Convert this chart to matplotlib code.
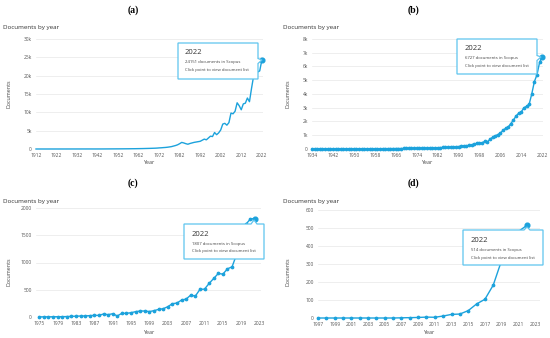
import matplotlib.pyplot as plt
from matplotlib.patches import Polygon

# Scopus "documents by year" for four searches
a_years = list(range(1912, 2023))
a_docs = [2, 1, 1, 2, 0, 1, 1, 3, 2, 2,
          3, 2, 4, 3, 5, 4, 6, 5, 7, 6,
          8, 7, 9, 10, 9, 12, 11, 10, 8, 9,
          10, 12, 11, 14, 18, 22, 25, 28, 30, 35,
          38, 42, 45, 50, 55, 60, 68, 75, 80, 90,
          100, 110, 120, 135, 150, 165, 180, 200, 220, 250,
          300, 330, 380, 420, 480, 560, 650, 800, 950, 1150,
          1450, 1800, 1650, 1450, 1300, 1500, 1650, 1800, 1900, 2000,
          2100, 2400, 2700, 2500, 3000, 3500, 3400, 4500, 3900, 4400,
          5200, 6800, 7000, 6500, 7200, 9800, 9600, 10300, 12600, 11800,
          10700, 12300, 12500, 13900, 12900, 16500, 19800, 23700, 21000, 21300,
          24151]

b_years = list(range(1934, 2023))
b_docs = [5, 3, 4, 6, 5, 4, 3, 2, 3, 4,
          5, 6, 8, 7, 9, 10, 12, 11, 13, 15,
          14, 16, 18, 17, 20, 22, 21, 24, 26, 25,
          28, 30, 32, 31, 35, 38, 40, 42, 45, 48,
          50, 55, 58, 60, 65, 70, 75, 80, 90, 100,
          110, 115, 125, 135, 150, 165, 180, 200, 220, 240,
          260, 300, 350, 420, 450, 450, 550, 500, 700, 850,
          950, 1050, 1150, 1350, 1500, 1600, 1850, 2100, 2400, 2600,
          2700, 3000, 3100, 3250, 4000, 4900, 5400, 6300,
          6727]

c_years = list(range(1975, 2023))
c_docs = [2, 3, 3, 4, 5, 6, 8, 12, 15, 18,
          20, 25, 30, 30, 55, 43, 60, 20, 67, 67,
          79, 98, 110, 110, 100, 116, 140, 152, 189, 244,
          256, 311, 329, 402, 384, 506, 512, 616, 707, 799,
          787, 884, 921, 1150, 1450, 1700, 1800, 1807]

d_years = list(range(1997, 2023))
d_docs = [0, 0, 0, 0, 0, 0, 0, 0, 0, 0,
          1, 2, 3, 5, 4, 11, 20, 22, 41, 78,
          104, 183, 320, 420, 480, 514]

a_xticks = list(range(1912, 2023, 10))
b_xticks = list(range(1934, 2023, 8))
c_xticks = list(range(1975, 2024, 4))
d_xticks = list(range(1997, 2024, 2))

W, H = 550, 338
BLUE = '#1ca2dc'
EDGE = '#5ec4ee'
FONT = 'Open Sans'

fig = plt.figure(figsize=(5.5, 3.38), dpi=100)


def fx(x):
    return x / W


def fy(y):
    return 1 - y / H


def panel(box, years, docs, xlim, xticks, ymax, ystep, kfmt, markers):
    x0, y0, x1, y1 = box
    ax = fig.add_axes([fx(x0), fy(y1), fx(x1) - fx(x0), fy(y0) - fy(y1)])
    if markers:
        ax.plot(years, docs, color=BLUE, lw=1.0, marker='o', ms=1.7, clip_on=False)
    else:
        ax.plot(years, docs, color=BLUE, lw=1.0, clip_on=False)
    ax.plot(years[-1], docs[-1], 'o', color=BLUE, ms=3.4, clip_on=False, zorder=5)
    ax.set_xlim(*xlim)
    ax.set_ylim(0, ymax)
    yt = list(range(0, ymax + 1, ystep))
    ax.set_yticks(yt)
    if kfmt:
        ax.set_yticklabels(['0'] + [f'{v // 1000}k' for v in yt[1:]])
    ax.set_xticks(xticks)
    ax.grid(axis='y', color='#e8e8e8', lw=0.5)
    ax.set_axisbelow(True)
    for s in ax.spines.values():
        s.set_visible(False)
    ax.tick_params(length=0, labelsize=3.5, colors='#555555', pad=3)
    for lab in ax.get_xticklabels() + ax.get_yticklabels():
        lab.set_family(FONT)
    return ax


def tooltip(box, arrow, text_xy, count):
    x0, y0, x1, y1 = box
    side, ax_, ay_, tx, ty = arrow
    if side == 'right':
        pts = [(x0, y0), (x1, y0), (x1, ay_ - 2.5), (tx, ty), (x1, ay_ + 2.5), (x1, y1), (x0, y1)]
    else:
        pts = [(x0, y0), (ax_ - 3, y0), (tx, ty), (ax_ + 3, y0), (x1, y0), (x1, y1), (x0, y1)]
    poly = Polygon([(fx(x), fy(y)) for x, y in pts], closed=True, transform=fig.transFigure,
                   facecolor='white', edgecolor=EDGE, lw=0.9, zorder=3)
    fig.add_artist(poly)
    tx0, ty0 = text_xy
    fig.text(fx(tx0), fy(ty0), '2022', fontsize=5.5, color='#333333', family=FONT, va='center', zorder=4)
    fig.text(fx(tx0), fy(ty0 + 9.5), f'{count} documents in Scopus', fontsize=3.1,
             color='#444444', family=FONT, va='center', zorder=4)
    fig.text(fx(tx0), fy(ty0 + 17), 'Click point to view document list', fontsize=3.1,
             color='#444444', family=FONT, va='center', zorder=4)


def labels(ox, oy, letter, ylab_x, ylab_y, year_x, year_y):
    fig.text(fx(ox + 133), fy(oy + 10), letter, fontsize=7, fontweight='bold',
             family='Liberation Serif', ha='center', va='center')
    fig.text(fx(ox + 3), fy(oy + 28), 'Documents by year', fontsize=4.5,
             color='#333333', family=FONT, va='center')
    fig.text(fx(ylab_x), fy(ylab_y), 'Documents', fontsize=3.9, color='#444444',
             family=FONT, rotation=90, ha='center', va='center')
    fig.text(fx(year_x), fy(year_y), 'Year', fontsize=3.9, color='#444444',
             family=FONT, ha='center', va='center')


panel((36, 39, 263, 149), a_years, a_docs, (1912, 2022.6), a_xticks, 30000, 5000, True, False)
panel((312, 39, 543, 149), b_years, b_docs, (1934, 2022.3), b_xticks, 8000, 1000, True, True)
panel((36, 208, 261, 317), c_years, c_docs, (1974.3, 2023.3), c_xticks, 2000, 500, False, True)
panel((318, 210, 540, 318), d_years, d_docs, (1997, 2023.6), d_xticks, 600, 100, False, True)

labels(0, 0, '(a)', 9, 94, 149, 163)
labels(280, 0, '(b)', 288, 94, 427, 163)
labels(0, 173, '(c)', 9, 272, 149, 332)
labels(280, 173, '(d)', 288, 272, 429, 332)

tooltip((178, 43, 258, 79), ('right', 0, 61, 262, 60), (185, 53), 24151)
tooltip((457, 39, 537, 74), ('right', 0, 58, 541, 57), (465, 49), 6727)
tooltip((184, 224, 264, 259), ('top', 254, 0, 254, 220), (192, 234), 1807)
tooltip((463, 230, 543, 265), ('top', 527, 0, 527, 227), (471, 241), 514)

fig.savefig('out.png', dpi=100)
